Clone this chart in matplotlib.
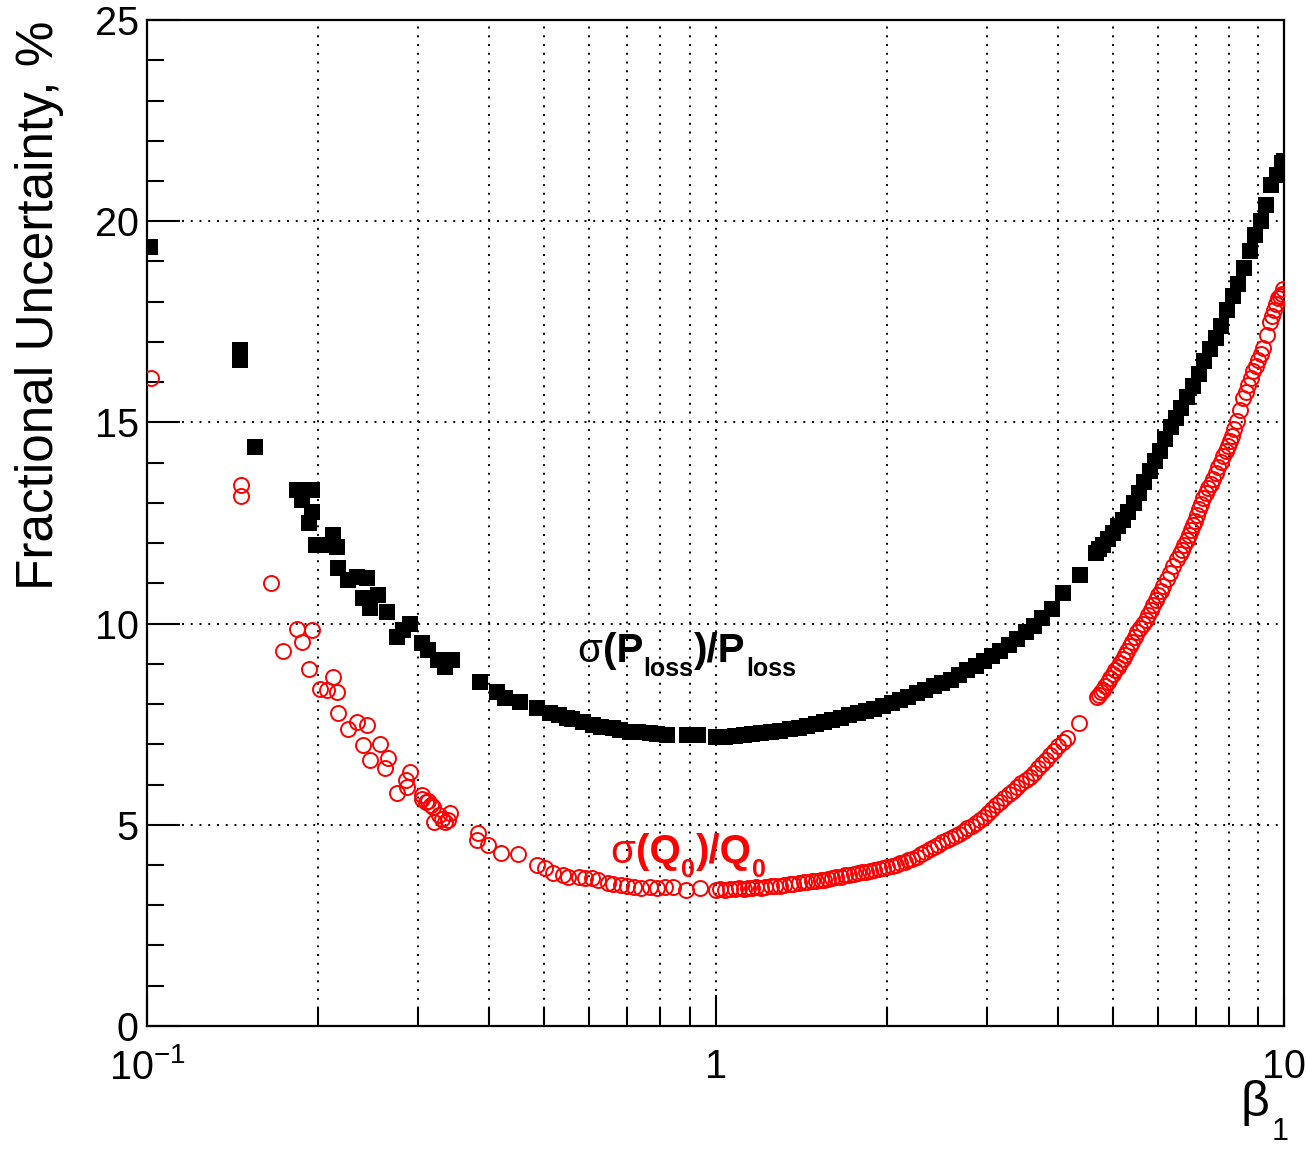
import matplotlib
matplotlib.use("Agg")
import matplotlib.pyplot as plt
from matplotlib.ticker import FixedLocator, MultipleLocator, NullFormatter, FixedFormatter

plt.rcParams['font.family'] = ['Liberation Sans', 'DejaVu Sans']
plt.rcParams['mathtext.fontset'] = 'custom'
plt.rcParams['mathtext.rm'] = 'Liberation Sans'
plt.rcParams['mathtext.it'] = 'Liberation Sans:italic'
plt.rcParams['mathtext.bf'] = 'Liberation Sans:bold'

# sigma(P_loss)/P_loss  (black squares)
beta_p = [0.1012, 0.1458, 0.1458, 0.1549, 0.1834, 0.1949, 0.1871, 0.1949, 0.1927,
          0.1983, 0.2071, 0.2125, 0.2160, 0.2168, 0.2258, 0.2339, 0.2435, 0.2399,
          0.2468, 0.2549, 0.2641, 0.2750, 0.2902, 0.2821, 0.3042, 0.3121, 0.3250,
          0.3343, 0.3436, 0.3853, 0.4122, 0.4263, 0.4530, 0.4848, 0.5117, 0.53,
          0.5473, 0.56, 0.5848, 0.6089, 0.63, 0.6602, 0.68, 0.7073, 0.73, 0.7669,
          0.79, 0.8208, 0.89, 0.93,
          1.00, 1.04, 1.08, 1.12, 1.16, 1.20, 1.25, 1.30, 1.35, 1.40, 1.45, 1.50,
          1.55, 1.60, 1.66, 1.72, 1.78, 1.84, 1.90, 1.97, 2.04, 2.11, 2.18, 2.26,
          2.34, 2.42, 2.50, 2.59, 2.68, 2.77, 2.87, 2.97, 3.07, 3.17, 3.28, 3.39,
          3.51, 3.63, 3.75, 3.90, 4.09, 4.38, 4.66, 4.72, 4.80, 4.90, 5.00, 5.10,
          5.20, 5.32, 5.44, 5.56, 5.68, 5.80, 5.92, 6.05, 6.18, 6.32, 6.46, 6.60,
          6.76, 6.92, 7.08, 7.24, 7.40, 7.58, 7.76, 7.94, 8.12, 8.30, 8.50, 8.70,
          8.90, 9.10, 9.30, 9.50, 9.70, 9.90, 10.00]
unc_p = [19.36, 16.55, 16.80, 14.39, 13.32, 13.32, 13.07, 12.78, 12.50,
         11.95, 11.95, 12.20, 11.90, 11.38, 11.08, 11.16, 11.13, 10.63,
         10.39, 10.71, 10.29, 9.67, 10.00, 9.84, 9.52, 9.34, 9.10,
         8.92, 9.10, 8.55, 8.30, 8.15, 8.06, 7.90, 7.78, 7.72,
         7.65, 7.62, 7.56, 7.48, 7.44, 7.40, 7.36, 7.31, 7.30, 7.28,
         7.25, 7.23, 7.23, 7.22,
         7.17, 7.18, 7.20, 7.22, 7.25, 7.27, 7.30, 7.33, 7.37, 7.41, 7.45, 7.50,
         7.55, 7.60, 7.65, 7.72, 7.78, 7.83, 7.88, 7.95, 8.03, 8.10, 8.18, 8.27,
         8.36, 8.44, 8.52, 8.60, 8.72, 8.84, 8.95, 9.06, 9.20, 9.33, 9.47, 9.61,
         9.78, 9.95, 10.15, 10.36, 10.75, 11.22, 11.75, 11.85, 11.95, 12.10, 12.25, 12.42,
         12.58, 12.78, 13.00, 13.25, 13.52, 13.80, 14.05, 14.30, 14.58, 14.88, 15.12, 15.35,
         15.62, 15.90, 16.20, 16.52, 16.82, 17.10, 17.40, 17.80, 18.15, 18.45, 18.85, 19.25,
         19.65, 20.00, 20.40, 20.90, 21.15, 21.45, 21.50]

# sigma(Q0)/Q0  (red open circles)
beta_q = [0.1016, 0.1463, 0.1463, 0.1651, 0.1834, 0.1949, 0.1871, 0.1733, 0.1929,
          0.2125, 0.2017, 0.2071, 0.2162, 0.2169, 0.2259, 0.2339, 0.2435, 0.2402,
          0.2569, 0.2468, 0.2654, 0.2622, 0.2902, 0.2849, 0.2750, 0.2866, 0.3042,
          0.305, 0.3097, 0.312, 0.3153, 0.318, 0.3268, 0.330, 0.3416, 0.3203, 0.3343,
          0.338, 0.3827, 0.3800, 0.3985, 0.4201, 0.4499, 0.4848, 0.5014, 0.5184,
          0.5391, 0.55, 0.5753, 0.59, 0.6062, 0.62, 0.6467, 0.66, 0.6807, 0.70,
          0.7175, 0.74, 0.7669, 0.79, 0.8136, 0.8408, 0.8887, 0.9386,
          1.00, 1.02, 1.04, 1.06, 1.08, 1.10, 1.12, 1.14, 1.16, 1.18, 1.20, 1.22,
          1.25, 1.27, 1.30, 1.32, 1.35, 1.37, 1.40, 1.43, 1.45, 1.48, 1.50, 1.53,
          1.55, 1.58, 1.60, 1.63, 1.66, 1.69, 1.72, 1.75, 1.78, 1.81, 1.84, 1.87,
          1.90, 1.94, 1.97, 2.00, 2.04, 2.08, 2.11, 2.15, 2.18, 2.22, 2.26, 2.30,
          2.34, 2.38, 2.42, 2.46, 2.50, 2.55, 2.59, 2.64, 2.68, 2.73, 2.77, 2.82,
          2.87, 2.92, 2.97, 3.02, 3.07, 3.12, 3.17, 3.22, 3.28, 3.33, 3.39, 3.45,
          3.51, 3.57, 3.63, 3.69, 3.75, 3.81, 3.88, 3.94, 4.01, 4.08, 4.15, 4.35,
          4.68, 4.72, 4.76, 4.80, 4.85, 4.90, 4.95, 5.01, 5.05, 5.10, 5.15, 5.20,
          5.25, 5.29, 5.35, 5.40, 5.46, 5.52, 5.58, 5.65, 5.71, 5.77, 5.83, 5.89,
          5.95, 6.01, 6.07, 6.13, 6.22, 6.30, 6.39, 6.48, 6.55, 6.61, 6.68, 6.75,
          6.81, 6.87, 6.92, 6.97, 7.03, 7.09, 7.15, 7.21, 7.28, 7.36, 7.43, 7.51,
          7.58, 7.66, 7.74, 7.82, 7.89, 7.96, 8.02, 8.09, 8.17, 8.26, 8.37, 8.48,
          8.56, 8.65, 8.74, 8.83, 8.91, 9.00, 9.10, 9.20, 9.32, 9.45, 9.52, 9.60,
          9.68, 9.77, 9.84, 9.90, 9.97]
unc_q = [16.11, 13.44, 13.17, 11.02, 9.86, 9.84, 9.55, 9.33, 8.87,
         8.68, 8.37, 8.35, 8.31, 7.77, 7.37, 7.56, 7.48, 6.98,
         7.02, 6.61, 6.67, 6.41, 6.32, 6.11, 5.78, 5.95, 5.74,
         5.65, 5.57, 5.60, 5.49, 5.45, 5.24, 5.15, 5.29, 5.08, 5.08,
         5.12, 4.79, 4.62, 4.50, 4.29, 4.27, 4.00, 3.92, 3.79,
         3.75, 3.70, 3.71, 3.68, 3.67, 3.62, 3.56, 3.52, 3.50, 3.48,
         3.46, 3.44, 3.45, 3.43, 3.45, 3.46, 3.38, 3.42,
         3.38, 3.40, 3.39, 3.41, 3.40, 3.42, 3.41, 3.43, 3.42, 3.45, 3.44, 3.46,
         3.47, 3.47, 3.49, 3.51, 3.52, 3.53, 3.55, 3.57, 3.57, 3.60, 3.60, 3.62,
         3.63, 3.66, 3.67, 3.69, 3.71, 3.74, 3.75, 3.78, 3.79, 3.82, 3.83, 3.86,
         3.87, 3.90, 3.92, 3.95, 3.97, 4.01, 4.04, 4.08, 4.12, 4.16, 4.21, 4.27,
         4.33, 4.40, 4.46, 4.51, 4.56, 4.61, 4.66, 4.72, 4.78, 4.85, 4.91, 4.98,
         5.05, 5.12, 5.20, 5.29, 5.38, 5.48, 5.57, 5.66, 5.76, 5.85, 5.95, 6.03,
         6.12, 6.20, 6.29, 6.40, 6.50, 6.62, 6.73, 6.84, 6.95, 7.05, 7.15, 7.52,
         8.18, 8.23, 8.30, 8.35, 8.45, 8.55, 8.65, 8.75, 8.84, 8.92, 9.02, 9.12,
         9.22, 9.32, 9.44, 9.55, 9.66, 9.78, 9.88, 9.98, 10.10, 10.22, 10.34, 10.46,
         10.58, 10.70, 10.82, 10.93, 11.10, 11.26, 11.43, 11.60, 11.72, 11.84, 11.96, 12.08,
         12.20, 12.32, 12.44, 12.55, 12.70, 12.84, 12.98, 13.13, 13.25, 13.36, 13.48, 13.60,
         13.74, 13.88, 14.02, 14.17, 14.29, 14.41, 14.53, 14.65, 14.84, 15.03, 15.32, 15.60,
         15.76, 15.93, 16.10, 16.27, 16.41, 16.55, 16.70, 16.84, 17.17, 17.50, 17.65, 17.80,
         17.94, 18.08, 18.14, 18.20, 18.31]

xtick_vals = [0.1, 1, 10]
xtick_labels = [r'$10^{-1}$', '1', '10']
minor_x = [m * d for d in (0.1, 1) for m in range(2, 10)]

fig = plt.figure(figsize=(13.06, 11.52), dpi=100)
ax = fig.add_axes([0.1126, 0.1094, 0.8706, 0.8732])

ax.plot(beta_p, unc_p, 's', color='black', ms=11.5, mew=0, zorder=3)
ax.plot(beta_q, unc_q, 'o', mfc='none', mec='red', ms=10.8, mew=1.4, zorder=4)

ax.set_xscale('log')
ax.set_xlim(0.1, 10)
ax.set_ylim(0, 25)

ax.xaxis.set_major_locator(FixedLocator(xtick_vals))
ax.xaxis.set_major_formatter(FixedFormatter(xtick_labels))
ax.xaxis.set_minor_locator(FixedLocator(minor_x))
ax.xaxis.set_minor_formatter(NullFormatter())
ax.yaxis.set_major_locator(MultipleLocator(5))
ax.yaxis.set_minor_locator(MultipleLocator(1))

ax.tick_params(axis='both', which='both', direction='in', top=False, right=False,
               width=1.5, labelsize=28.5)
ax.tick_params(axis='y', which='major', length=24, pad=6)
ax.tick_params(axis='y', which='minor', length=12)
ax.tick_params(axis='x', which='major', length=22, pad=16)
ax.tick_params(axis='x', which='minor', length=13)

gridstyle = dict(color='black', linestyle=(0, (1, 3.5)), linewidth=1.4)
ax.grid(True, which='major', axis='y', **gridstyle)
ax.grid(True, which='both', axis='x', **gridstyle)
ax.set_axisbelow(True)

for s in ax.spines.values():
    s.set_linewidth(1.6)


def chain(first, pieces, y, ycoords):
    # place text pieces one after another; pieces = (text, size, weight, drop in points)
    prev = first
    for txt, size, weight, drop in pieces:
        prev = ax.annotate(txt, xy=(1, y), xycoords=(prev, ycoords),
                           xytext=(0.5, -drop), textcoords='offset points',
                           fontsize=size, fontweight=weight, color=first.get_color(),
                           ha='left', va='baseline', annotation_clip=False)
    return prev


main, sub, drop = 29, 18, 10
t = ax.text(0.5707, 9.05, 'σ', fontsize=main, color='black', ha='left', va='baseline')
chain(t, [('(P', main, 'bold', 0), ('loss', sub, 'bold', drop),
          (')/P', main, 'bold', 0), ('loss', sub, 'bold', drop)], 9.05, 'data')

t = ax.text(0.652, 4.05, 'σ', fontsize=main, color='red', ha='left', va='baseline')
chain(t, [('(Q', main, 'bold', 0), ('0', sub, 'bold', drop),
          (')/Q', main, 'bold', 0), ('0', sub, 'bold', drop)], 4.05, 'data')

fig.text(40 / 1306, 1 - 20 / 1152, 'Fractional Uncertainty, %', rotation=90,
         ha='center', va='top', fontsize=37)

b = fig.text(1241 / 1306, 1 - 1116 / 1152, 'β', ha='left', va='baseline', fontsize=36)
ax.annotate('1', xy=(1, 1 - 1116 / 1152), xycoords=(b, 'figure fraction'),
            xytext=(1, -17), textcoords='offset points', fontsize=22,
            ha='left', va='baseline', annotation_clip=False)

fig.savefig('out.png', dpi=100)
